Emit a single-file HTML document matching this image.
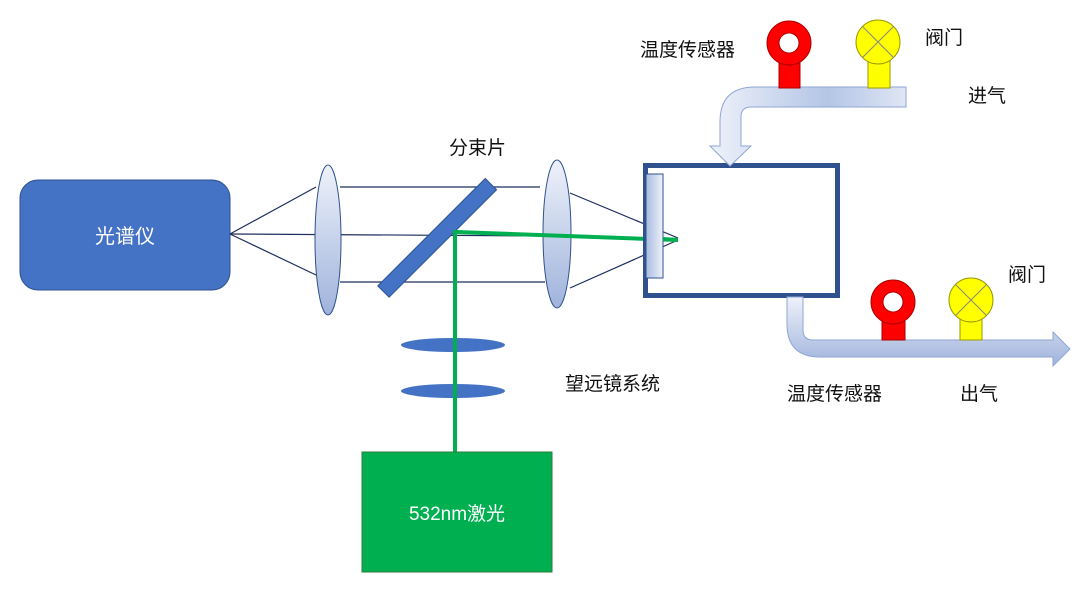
<!DOCTYPE html>
<html><head><meta charset="utf-8"><style>
body{margin:0;background:#fff}
svg text{font-family:"Liberation Sans","Noto Sans CJK SC",sans-serif;font-size:19px;fill:#111}
</style></head><body>
<svg width="1086" height="599" viewBox="0 0 1086 599" xmlns="http://www.w3.org/2000/svg">
<defs>
<linearGradient id="lg" x1="0" y1="0" x2="0" y2="1"><stop offset="0" stop-color="#eef2fa"/><stop offset="1" stop-color="#9fb3dc"/></linearGradient>
<linearGradient id="pg" x1="0" y1="0" x2="1" y2="0"><stop offset="0" stop-color="#eef2fa"/><stop offset="0.6" stop-color="#b4c5e6"/><stop offset="1" stop-color="#dfe6f4"/></linearGradient>
<linearGradient id="vg" x1="0" y1="0" x2="1" y2="0"><stop offset="0" stop-color="#a8bbe0"/><stop offset="1" stop-color="#eef2fa"/></linearGradient>
</defs>
<rect x="20" y="180" width="210" height="110" rx="18" fill="#4472C4" stroke="#2F528F"/>
<text x="125" y="243" text-anchor="middle" style="fill:#fff;font-size:20px">光谱仪</text>
<g stroke="#1f2f5f" stroke-width="1.2" fill="none">
<line x1="230" y1="234" x2="316" y2="187"/><line x1="230" y1="234" x2="316" y2="275"/><line x1="230" y1="234" x2="545" y2="236"/>
<line x1="340" y1="187" x2="540" y2="187"/><line x1="340" y1="282" x2="545" y2="282"/>
<line x1="570" y1="193" x2="678" y2="238"/><line x1="570" y1="288" x2="678" y2="240"/>
</g>
<ellipse cx="328" cy="240" rx="13" ry="75" fill="url(#lg)" stroke="#2F528F"/>
<ellipse cx="557" cy="234" rx="14" ry="74" fill="url(#lg)" stroke="#2F528F"/>
<rect x="432" y="163" width="16" height="152" fill="#4472C4" stroke="#2F528F" transform="rotate(45 440 235)"/>
<ellipse cx="453" cy="345" rx="52" ry="7" fill="#4472C4"/>
<ellipse cx="453" cy="391" rx="52" ry="7" fill="#4472C4"/>
<g stroke="#00B050" stroke-width="4" fill="none"><polyline points="455,453 455,232 678,240"/></g>
<rect x="362" y="452" width="190" height="120" fill="#00B050" stroke="#2f7a3a"/>
<text x="457" y="520" text-anchor="middle" style="fill:#fff">532nm激光</text>
<rect x="645.5" y="165.5" width="192" height="130" fill="none" stroke="#2F528F" stroke-width="5"/>
<rect x="646" y="174" width="17" height="104" fill="url(#vg)" stroke="#2F528F"/>
<line x1="663" y1="239" x2="678" y2="240" stroke="#00B050" stroke-width="4"/>
<path d="M906,87 L755,87 Q720,87 720,122 L720,146 L710,146 L730,166 L751,146 L741,146 L741,117 Q741,107 751,107 L906,107 Z" fill="url(#pg)" stroke="#8fa6d6"/>
<path d="M787,297 L803,297 L803,330 Q803,340 813,340 L1053,340 L1053,332 L1070,349 L1053,366 L1053,357 L820,357 Q787,357 787,324 Z" fill="url(#lg)" stroke="#8fa6d6"/>
<rect x="779" y="60" width="21" height="28" fill="#f00" stroke="#a00"/>
<circle cx="789" cy="43" r="22" fill="#f00" stroke="#a00"/><circle cx="789" cy="43" r="10" fill="#fff" stroke="#a00"/>
<rect x="868" y="60" width="22" height="28" fill="#ff0" stroke="#990"/>
<circle cx="878" cy="42" r="22" fill="#ff0" stroke="#990"/>
<path d="M862.4,26.4 L893.6,57.6 M893.6,26.4 L862.4,57.6" stroke="#888" />
<rect x="882" y="316" width="23" height="24" fill="#f00" stroke="#a00"/>
<circle cx="893" cy="302" r="22" fill="#f00" stroke="#a00"/><circle cx="893" cy="302" r="10" fill="#fff" stroke="#a00"/>
<rect x="960" y="318" width="22" height="22" fill="#ff0" stroke="#990"/>
<circle cx="971" cy="300" r="22" fill="#ff0" stroke="#990"/>
<path d="M955.4,284.4 L986.6,315.6 M986.6,284.4 L955.4,315.6" stroke="#888"/>
<text x="640" y="56">温度传感器</text>
<text x="925" y="44">阀门</text>
<text x="968" y="102">进气</text>
<text x="449" y="154">分束片</text>
<text x="565" y="390">望远镜系统</text>
<text x="787" y="400">温度传感器</text>
<text x="960" y="400">出气</text>
<text x="1008" y="281">阀门</text>
</svg>
</body></html>
